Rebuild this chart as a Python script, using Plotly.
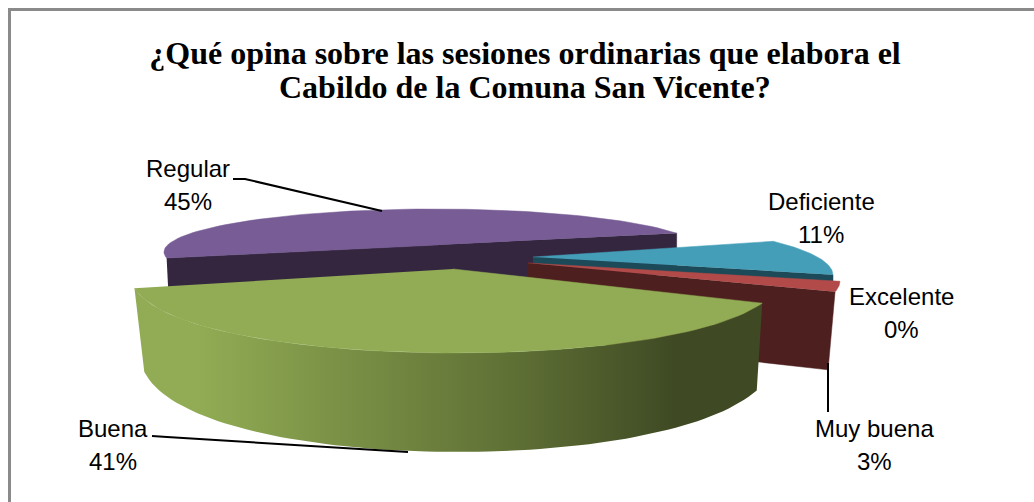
import numpy as np
import plotly.graph_objects as go

CATEGORIES = ["Excelente", "Muy buena", "Buena", "Regular", "Deficiente"]
VALUES = [0, 3, 41, 45, 11]
PERCENT_LABELS = ["0%", "3%", "41%", "45%", "11%"]
TITLE_LINES = ["¿Qué opina sobre las sesiones ordinarias que elabora el",
               "Cabildo de la Comuna San Vicente?"]

VAL = dict(zip(CATEGORIES, VALUES))
W, H = 1034, 502


def arc(cx, cy, rx, ry, start, value, p=1.0, n=80):
    """Outer edge of a slice: sweep comes from the value (100 % = 360 deg)."""
    t = np.radians(np.linspace(start, start + 3.6 * value, n))
    c = np.cos(t)
    return cx + rx * np.sin(t), cy - ry * np.sign(c) * np.abs(c) ** p


def poly(x, y, color, **kw):
    return go.Scatter(x=list(x), y=list(y), mode="lines", fill="toself", fillcolor=color,
                      line=dict(width=0.5, color=color), hoverinfo="skip", showlegend=False, **kw)


fig = go.Figure()

# ---- Regular (back slice) ----
ax, ay = arc(434, 252, 270, 43, 262, VAL["Regular"])
apex_r = (438, 245)
wx = [ax[0], apex_r[0], ax[-1], ax[-1], apex_r[0], ax[0] + 2]
d = 40
wy = [ay[0], apex_r[1], ay[-1], ay[-1] + d, apex_r[1] + d, ay[0] + d]
fig.add_trace(poly(wx, wy, "#352640"))
fig.add_trace(poly([apex_r[0], *ax], [apex_r[1], *ay], "#775c95"))

# ---- Deficiente ----
ax, ay = arc(572, 275, 261, 53, 50, VAL["Deficiente"])
apex_d = (533, 257)
d = 8
fig.add_trace(poly([apex_d[0], ax[-1], ax[-1], apex_d[0]],
                   [apex_d[1], ay[-1], ay[-1] + d, apex_d[1] + d], "#1d4a58"))
fig.add_trace(poly([apex_d[0], *ax], [apex_d[1], *ay], "#449eb8"))

# ---- Muy buena (+ Excelente, a zero-width slice) ----
ax, ay = arc(540, 281, 300, 60, 89.6, VAL["Muy buena"])
apex_m = (528, 263)
fig.add_trace(poly([apex_m[0], ax[-1], ax[-1] - 7, apex_m[0]],
                   [apex_m[1], ay[-1], ay[-1] + 78, apex_m[1] + 73], "#4e1f1f"))
fig.add_trace(poly([apex_m[0], *ax], [apex_m[1], *ay], "#b14a48"))

# ---- Buena (front, exploded) ----
tx, ty = arc(456, 264, 328, 89, 111, VAL["Buena"], p=0.8)
bx, by = arc(458, 342, 320, 110, 111, VAL["Buena"], p=0.8)
fig.add_trace(go.Scatter(
    x=list(tx) + list(bx[::-1]), y=list(ty) + list(by[::-1]), mode="lines", fill="toself",
    line=dict(width=0), hoverinfo="skip", showlegend=False,
    fillgradient=dict(type="horizontal", start=134, stop=763,
                      colorscale=[[0, "#91ac54"], [0.1, "#91ac54"], [0.6, "#5f7035"],
                                  [0.86, "#3f4a24"], [1, "#3f4a24"]])))
apex_b = (453, 269)
fig.add_trace(poly([apex_b[0], *tx], [apex_b[1], *ty], "#91ac54"))

# ---- Leader lines ----
for lx, ly in [([233, 245, 382], [179, 179, 211]),
               ([152, 167, 408], [436, 437, 452]),
               ([828, 828], [363, 412])]:
    fig.add_trace(go.Scatter(x=lx, y=ly, mode="lines", line=dict(color="#000000", width=2),
                             hoverinfo="skip", showlegend=False))

# ---- Data labels ----
LABEL_POS = {"Regular": (188, 168), "Deficiente": (821, 201), "Excelente": (901, 296),
             "Muy buena": (874, 428), "Buena": (113, 428)}
for cat, pct in zip(CATEGORIES, PERCENT_LABELS):
    x, y = LABEL_POS[cat]
    for txt, yy in ((cat, y), (pct, y + 33)):
        fig.add_annotation(x=x, y=yy, text=txt, showarrow=False, xanchor="center", yanchor="middle",
                           font=dict(family="Liberation Sans", size=24, color="#000000"))

# second title line: kept apart so that the line spacing can be tighter than plotly's own
fig.add_annotation(x=525, y=87, text="<b>" + TITLE_LINES[1] + "</b>", showarrow=False,
                   xanchor="center", yanchor="middle",
                   font=dict(family="Liberation Serif", size=32, color="#000000"))

fig.update_layout(
    width=W, height=H, margin=dict(l=0, r=0, t=0, b=0),
    paper_bgcolor="#ffffff", plot_bgcolor="#ffffff", showlegend=False,
    title=dict(text="<b>" + TITLE_LINES[0] + "</b>", x=525 / W, xanchor="center",
               y=1 - 53 / H, yanchor="middle",
               font=dict(family="Liberation Serif", size=32, color="#000000")),
    xaxis=dict(range=[0, W], visible=False, fixedrange=True),
    yaxis=dict(range=[H, 0], visible=False, fixedrange=True),
    shapes=[dict(type="rect", xref="x", yref="y", x0=9.5, y0=9.5, x1=1100, y1=600,
                 line=dict(color="#8a8a8a", width=3), fillcolor="rgba(0,0,0,0)", layer="below")],
)
fig.write_html("out.html", config={"displayModeBar": False},
               post_script="document.body.style.margin='0';document.body.style.overflow='hidden';")
